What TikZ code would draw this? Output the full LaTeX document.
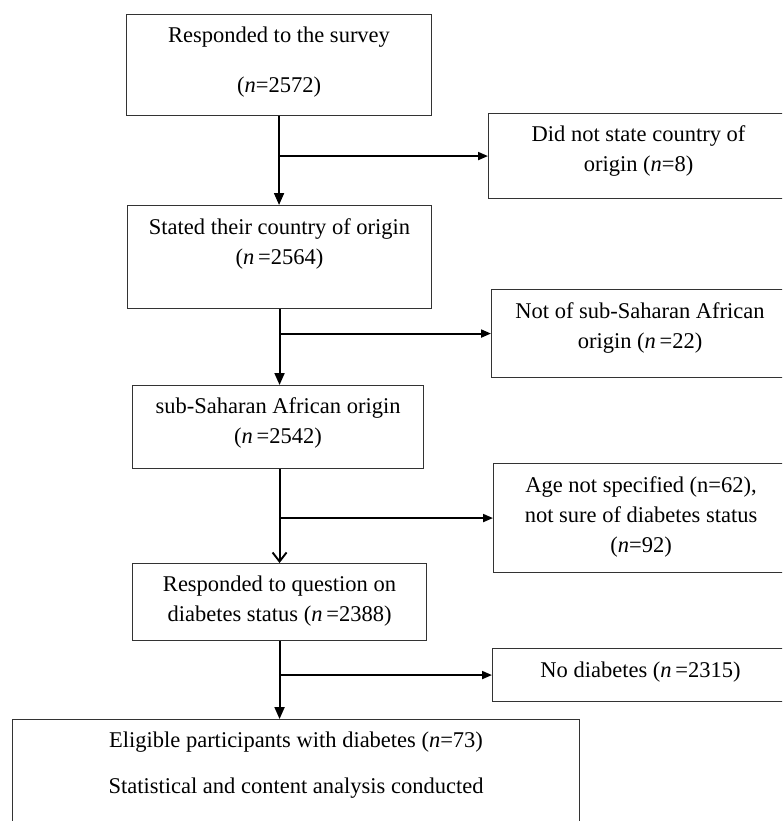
\documentclass[tikz,border=0pt]{standalone}
\usepackage{fontspec}
\setmainfont{Liberation Serif}
\usetikzlibrary{arrows.meta}

\tikzset{
  box/.style={draw=black!80, line width=1.1pt, inner sep=0pt, anchor=north west},
  txt/.style={anchor=north, inner sep=0pt, align=center, font=\fontsize{22.5}{30}\selectfont},
  flow/.style={line width=1.9pt, -{Triangle[length=12pt,width=10pt]}},
  barb/.style={line width=1.9pt, -{Straight Barb[length=9pt,width=14pt]}},
  side/.style={line width=1.9pt, -{Triangle[length=10pt,width=8pt]}}
}

\begin{document}
\begin{tikzpicture}[x=1pt,y=-1pt]
	\useasboundingbox (0,0) rectangle (782,821);
	\clip (0,0) rectangle (782,821);

		% main column
		\node (surv)[box, minimum width=305pt, minimum height=101pt] at (126,14) {};
		\node (stat)[box, minimum width=304pt, minimum height=103pt] at (127,205) {};
		\node (ssa)[box, minimum width=291pt, minimum height=83pt] at (132,385) {};
		\node (resp)[box, minimum width=294pt, minimum height=77pt] at (132,563) {};
		\node (elig)[box, minimum width=567pt, minimum height=130pt] at (12,719) {};

		% exclusions
		\node (nost)[box, minimum width=300pt, minimum height=85pt] at (488,113) {};
		\node (nssa)[box, minimum width=297pt, minimum height=88pt] at (491,289) {};
		\node (nage)[box, minimum width=295pt, minimum height=109pt] at (493,463) {};
		\node (nodia)[box, minimum width=296pt, minimum height=53pt] at (492,648) {};

		\node (survt)[txt] at ([yshift=-13pt]surv.north) {Responded to the survey\\[20pt](\textit{n}=2572)};
		\node (statt)[txt] at ([yshift=-13pt]stat.north) {Stated their country of origin\\(\textit{n}\,=2564)};
		\node (ssat)[txt] at ([yshift=-12pt]ssa.north) {sub-Saharan African origin\\(\textit{n}\,=2542)};
		\node (respt)[txt] at ([yshift=-13pt]resp.north) {Responded to question on\\diabetes status (\textit{n}\,=2388)};
		\node (eligt)[txt] at ([yshift=-13pt]elig.north) {Eligible participants with diabetes (\textit{n}=73)\\[16pt]Statistical and content analysis conducted};

		\node (nostt)[txt] at ([yshift=-12pt]nost.north) {Did not state country of\\origin (\textit{n}=8)};
		\node (nssat)[txt] at ([yshift=-13pt]nssa.north) {Not of sub-Saharan African\\origin (\textit{n}\,=22)};
		\node (naget)[txt] at ([yshift=-13pt]nage.north) {Age not specified (n=62),\\not sure of diabetes status\\(\textit{n}=92)};
		\node (nodiat)[txt] at ([yshift=-14pt]nodia.north) {No diabetes (\textit{n}\,=2315)};

		\draw [flow](surv.south) -- (surv.south |- stat.north);
		\draw [side](surv.south |- nost.west) -- (nost.west);
		\draw [flow](stat.south) -- (stat.south |- ssa.north);
		\draw [side](stat.south |- nssa.west) -- (nssa.west);
		\draw [barb](stat.south |- ssa.south) -- (stat.south |- resp.north);
		\draw [side](stat.south |- nage.west) -- (nage.west);
		\draw [flow](stat.south |- resp.south) -- (stat.south |- elig.north);
		\draw [side](stat.south |- nodia.west) -- (nodia.west);
	\end{tikzpicture}
\end{document}
